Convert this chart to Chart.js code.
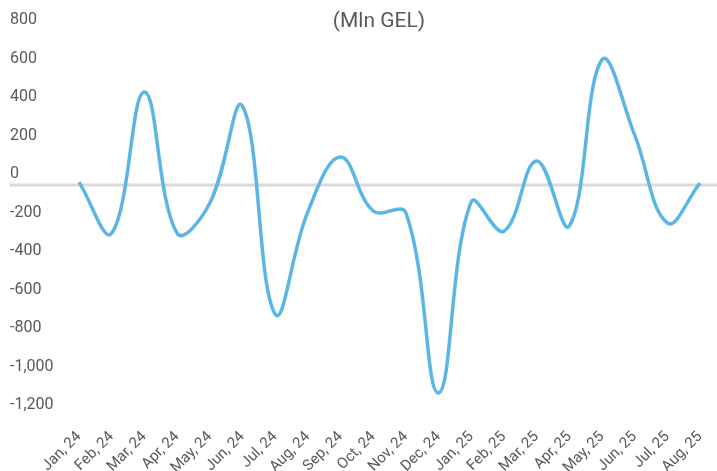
<!DOCTYPE html>
<html>
<head>
<meta charset="utf-8">
<script src="https://cdn.jsdelivr.net/npm/chart.js@4"></script>
<style>
  html, body { margin: 0; padding: 0; background: #fff; }
  #wrap { width: 717px; height: 471px; }
</style>
</head>
<body>
<div id="wrap"><canvas id="flowChart" width="717" height="471"></canvas></div>
<script>
// Data
const months = ["Jan, 24", "Feb, 24", "Mar, 24", "Apr, 24", "May, 24", "Jun, 24", "Jul, 24",
  "Aug, 24", "Sep, 24", "Oct, 24", "Nov, 24", "Dec, 24", "Jan, 25", "Feb, 25", "Mar, 25",
  "Apr, 25", "May, 25", "Jun, 25", "Jul, 25", "Aug, 25"];
const values = [15, -250, 483, -250, -95, 410, -670, -140, 145, -135, -145, -1080,
  -88, -240, 125, -213, 650, 260, -197, 10];
const yTicks = [800, 600, 400, 200, 0, -200, -400, -600, -800, -1000, -1200];
const titleText = "(Mln GEL)";

const FONT = "'Liberation Sans Narrow', 'Roboto', sans-serif";
const GREY = "#595959";

// zero line across the whole width + title text
const decorations = {
  id: "decorations",
  beforeDatasetsDraw(chart) {
    const c = chart.ctx;
    const y = chart.scales.y.getPixelForValue(0);
    c.save();
    c.strokeStyle = "#d9d9d9";
    c.lineWidth = 3;
    c.beginPath();
    c.moveTo(10, y);
    c.lineTo(chart.width, y);
    c.stroke();
    c.restore();
  },
  afterDraw(chart) {
    const c = chart.ctx;
    c.save();
    c.fillStyle = GREY;
    c.font = "21px " + FONT;
    c.textAlign = "center";
    c.textBaseline = "middle";
    c.fillText(titleText, 379, 22);
    c.restore();
  }
};

const ctx = document.getElementById("flowChart").getContext("2d");
new Chart(ctx, {
  type: "line",
  data: {
    labels: months,
    datasets: [
      {
        data: values,
        borderColor: "#5bb6e6",
        borderWidth: 3.5,
        tension: 0.4,
        pointRadius: 0,
        fill: false,
        clip: false,
      },
    ],
  },
  options: {
    responsive: false,
    animation: false,
    layout: { padding: { left: 10, right: 17, top: 31, bottom: 0 } },
    plugins: {
      legend: { display: false },
      tooltip: { enabled: false },
    },
    scales: {
      x: {
        grid: { display: false },
        border: { display: false },
        afterFit(scale) { scale.height = 55; },
        ticks: {
          autoSkip: false,
          maxRotation: 45,
          minRotation: 45,
          padding: 4,
          color: GREY,
          font: { family: FONT, size: 15 },
        },
      },
      y: {
        min: -1200,
        max: 800,
        grid: { display: false },
        border: { display: false },
        afterFit(scale) { scale.width = 69; },
        afterBuildTicks(scale) {
          scale.ticks = yTicks.map(v => ({ value: v }));
        },
        ticks: {
          crossAlign: "far",
          labelOffset: -11,
          color: GREY,
          font: { family: FONT, size: 16 },
        },
      },
    },
  },
  plugins: [decorations],
});
</script>
</body>
</html>
